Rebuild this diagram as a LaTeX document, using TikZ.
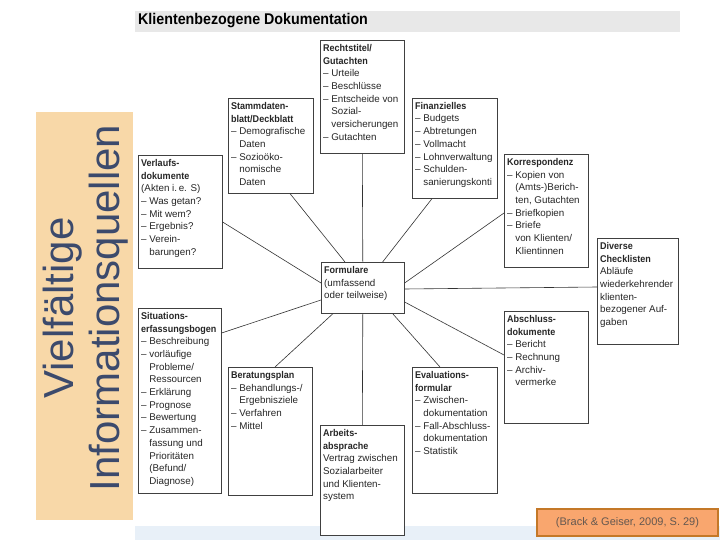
\documentclass[tikz,border=0pt]{standalone}
\usepackage{fontspec}
\setmainfont{Liberation Sans}[BoldFeatures={FakeStretch=0.92}]
\usetikzlibrary{calc}
\definecolor{panel}{RGB}{248,216,168}
\definecolor{paneltext}{RGB}{60,74,108}
\definecolor{titlebar}{RGB}{232,232,232}
\definecolor{bottomband}{RGB}{232,240,248}
\definecolor{citefill}{RGB}{249,166,110}
\definecolor{citeborder}{RGB}{196,120,40}
\definecolor{citetext}{RGB}{100,88,80}
\newcommand\ind{\phantom{– }}
\newcommand\bodyfont{\fontsize{9.8}{12.7}\selectfont}
\begin{document}
\begin{tikzpicture}[x=1pt,y=-1pt,
  box/.style={draw=black!75,line width=0.6pt,fill=white,anchor=north west,inner sep=0pt},
  txt/.style={anchor=north west,align=left,inner xsep=3pt,inner ysep=4pt,font=\bodyfont,text=black!85},
  link/.style={draw=black!80,line width=0.6pt}]
\useasboundingbox (0,0) rectangle (720,540);
\fill[white] (0,0) rectangle (720,540);
% left panel
\fill[panel] (36,112) rectangle (133,520);
\node[rotate=90,align=center,font=\fontsize{42}{46}\selectfont,text=paneltext] (paneltxt) at (86,308) {Vielfältige\\Informationsquellen};
% title bar
\fill[titlebar] (135,11) rectangle (680,32);
\node[anchor=west,font=\bfseries\fontsize{15.5}{17}\selectfont,inner sep=0pt] (title) at (138,21) {Klientenbezogene Dokumentation};
% bottom band
\fill[bottomband] (135,526) rectangle (720,540);
% boxes
\node[box,minimum width=84pt,minimum height=113pt] (recht) at (320,40) {};
\node[txt] at (recht.north west) {\textbf{Rechtstitel/}\\\textbf{Gutachten}\\– Urteile\\– Beschlüsse\\– Entscheide von\\\ind Sozial-\\\ind versicherungen\\– Gutachten};
\node[box,minimum width=85pt,minimum height=95pt] (stamm) at (228,98) {};
\node[txt] at (stamm.north west) {\textbf{Stammdaten-}\\\textbf{blatt/Deckblatt}\\– Demografische\\\ind Daten\\– Sozioöko-\\\ind nomische\\\ind Daten};
\node[box,minimum width=85pt,minimum height=100pt] (finanz) at (412,98) {};
\node[txt] at (finanz.north west) {\textbf{Finanzielles}\\– Budgets\\– Abtretungen\\– Vollmacht\\– Lohnverwaltung\\– Schulden-\\\ind sanierungskonti};
\node[box,minimum width=84pt,minimum height=113pt] (verlauf) at (138,155) {};
\node[txt] at (verlauf.north west) {\textbf{Verlaufs-}\\\textbf{dokumente}\\(Akten i.\,e. S)\\– Was getan?\\– Mit wem?\\– Ergebnis?\\– Verein-\\\ind barungen?};
\node[box,minimum width=84pt,minimum height=113pt] (korr) at (504,154) {};
\node[txt] at (korr.north west) {\textbf{Korrespondenz}\\– Kopien von\\\ind (Amts-)Berich-\\\ind ten, Gutachten\\– Briefkopien\\– Briefe\\\ind von Klienten/\\\ind Klientinnen};
\node[box,minimum width=81pt,minimum height=106pt] (diverse) at (597,238) {};
\node[txt] at (diverse.north west) {\textbf{Diverse}\\\textbf{Checklisten}\\Abläufe\\wiederkehrender\\klienten-\\bezogener Auf-\\gaben};
\node[box,minimum width=83pt,minimum height=51pt] (form) at (321,262) {};
\node[txt] at (form.north west) {\textbf{Formulare}\\(umfassend\\oder teilweise)};
\node[box,minimum width=83pt,minimum height=185pt] (situ) at (138,308) {};
\node[txt] at (situ.north west) {\textbf{Situations-}\\\textbf{erfassungsbogen}\\– Beschreibung\\– vorläufige\\\ind Probleme/\\\ind Ressourcen\\– Erklärung\\– Prognose\\– Bewertung\\– Zusammen-\\\ind fassung und\\\ind Prioritäten\\\ind (Befund/\\\ind Diagnose)};
\node[box,minimum width=84pt,minimum height=128pt] (berat) at (228,367) {};
\node[txt] at (berat.north west) {\textbf{Beratungsplan}\\– Behandlungs-/\\\ind Ergebnisziele\\– Verfahren\\– Mittel};
\node[box,minimum width=84pt,minimum height=110pt] (arbeit) at (320,425) {};
\node[txt] at (arbeit.north west) {\textbf{Arbeits-}\\\textbf{absprache}\\Vertrag zwischen\\Sozialarbeiter\\und Klienten-\\system};
\node[box,minimum width=85pt,minimum height=126pt] (eval) at (412,367) {};
\node[txt] at (eval.north west) {\textbf{Evaluations-}\\\textbf{formular}\\– Zwischen-\\\ind dokumentation\\– Fall-Abschluss-\\\ind dokumentation\\– Statistik};
\node[box,minimum width=84pt,minimum height=112pt] (absch) at (504,311) {};
\node[txt] at (absch.north west) {\textbf{Abschluss-}\\\textbf{dokumente}\\– Bericht\\– Rechnung\\– Archiv-\\\ind vermerke};
% connectors
\draw[link] (form.north) -- (recht.south);
\draw[link] ([xshift=24pt]form.north west) -- ([xshift=62pt]stamm.south west);
\draw[link] ([xshift=-22pt]form.north east) -- ([xshift=20pt]finanz.south west);
\draw[link] ([yshift=-21pt]form.north west) -- ([yshift=-67pt]verlauf.north east);
\draw[link] ([yshift=-21pt]form.north east) -- ([yshift=-59pt]korr.north west);
\draw[link] ([yshift=-27pt]form.north east) -- ([yshift=-49pt]diverse.north west);
\draw[link] ([yshift=-40pt]form.north east) -- ([yshift=-44pt]absch.north west);
\draw[link] ([yshift=-38pt]form.north west) -- ([yshift=-25pt]situ.north east);
\draw[link] ([xshift=12pt]form.south west) -- ([xshift=47pt]berat.north west);
\draw[link] ([xshift=-12pt]form.south east) -- ([xshift=28pt]eval.north west);
\draw[link] (form.south) -- (arbeit.north);
% citation
\node[draw=citeborder,line width=2pt,fill=citefill,minimum width=181pt,minimum height=27pt,anchor=north west,font=\fontsize{11}{13}\selectfont,text=citetext] (cite) at (536,508) {(Brack \& Geiser, 2009, S. 29)};
\end{tikzpicture}
\end{document}
